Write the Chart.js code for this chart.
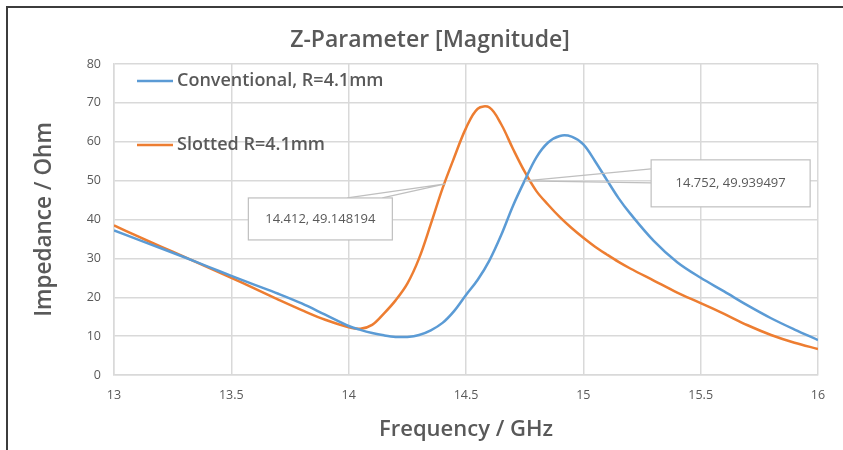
<!DOCTYPE html>
<html>
<head>
<meta charset="utf-8">
<script src="https://cdn.jsdelivr.net/npm/chart.js@4.4.1/dist/chart.umd.min.js"></script>
<style>
html, body { margin: 0; padding: 0; background: #fff; }
#wrap { position: relative; width: 843px; height: 450px; overflow: hidden; }
#frame { position: absolute; left: 6px; top: 6px; right: -10px; bottom: -10px;
         border-left: 2px solid #3c3c3c; border-top: 2px solid #3c3c3c; pointer-events: none; }
canvas { position: absolute; left: 0; top: 0; }
</style>
</head>
<body>
<div id="wrap">
  <canvas id="chart" width="843" height="450"></canvas>
  <div id="frame"></div>
</div>
<script>
// frequency in GHz, impedance in Ohm
const freq = [
    13.0, 13.1, 13.2, 13.3, 13.4, 13.5, 13.6, 13.7, 13.8, 13.9,
    14.0, 14.05, 14.1, 14.15, 14.2, 14.25, 14.3, 14.35, 14.4, 14.45,
    14.5, 14.55, 14.6, 14.65, 14.7, 14.75, 14.8, 14.85, 14.9, 14.95,
    15.0, 15.05, 15.1, 15.15, 15.2, 15.3, 15.4, 15.5, 15.6, 15.7,
    15.8, 15.9, 16.0
];
const conventional = [
    37.2, 34.9, 32.6, 30.3, 27.9, 25.5, 23.2, 20.9, 18.4, 15.5,
    12.6, 11.6, 10.8, 10.2, 9.8, 9.8, 10.3, 11.5, 13.4, 16.5,
    20.6, 24.5, 29.5, 36.0, 43.5, 50.0, 56.0, 59.8, 61.5, 61.3,
    59.3, 55.0, 50.2, 45.5, 41.5, 34.5, 29.0, 25.0, 21.5, 17.9,
    14.6, 11.7, 9.0
];
const slotted = [
    38.5, 35.7, 33.0, 30.4, 27.7, 25.0, 22.2, 19.4, 16.7, 14.2,
    12.3, 11.9, 12.9, 15.8, 19.2, 23.5, 30.0, 38.8, 48.0, 56.0,
    63.5, 68.5, 68.8, 64.5, 58.2, 52.3, 47.3, 43.8, 40.6, 37.8,
    35.3, 33.0, 31.0, 29.1, 27.4, 24.3, 21.2, 18.5, 15.7, 12.8,
    10.3, 8.3, 6.7
];
const seriesNames = ['Conventional, R=4.1mm', 'Slotted R=4.1mm'];
const xTicks = [13, 13.5, 14, 14.5, 15, 15.5, 16];
const yTicks = [0, 10, 20, 30, 40, 50, 60, 70, 80];
const chartTitle = 'Z-Parameter [Magnitude]';

// data callouts
const calloutX = [14.412, 14.752];
const calloutY = [49.148194, 49.939497];
const calloutText = ['14.412, 49.148194', '14.752, 49.939497'];

const blue = '#5b9bd5';
const orange = '#ed7d31';
const textGrey = '#595959';
const gridGrey = '#d9d9d9';
const fontFamily = "'Open Sans', 'Noto Sans', sans-serif";

const toPoints = vals => vals.map((v, i) => ({ x: freq[i], y: v }));

// title sits a bit right of the plot centre, like the original
const topTitle = {
    id: 'topTitle',
    afterDraw(chart) {
        const ctx = chart.ctx;
        ctx.save();
        ctx.font = '600 23px ' + fontFamily;
        ctx.fillStyle = textGrey;
        ctx.textAlign = 'center';
        ctx.textBaseline = 'middle';
        ctx.fillText(chartTitle, 430, 40);
        ctx.restore();
    }
};

const inlineLegend = {
    id: 'inlineLegend',
    afterDatasetsDraw(chart) {
        const ctx = chart.ctx;
        const area = chart.chartArea;
        const rows = [17, 81];
        ctx.save();
        ctx.font = '600 18px ' + fontFamily;
        ctx.textBaseline = 'middle';
        chart.data.datasets.forEach((ds, i) => {
            const y = area.top + rows[i];
            ctx.strokeStyle = ds.borderColor;
            ctx.lineWidth = 2.5;
            ctx.beginPath();
            ctx.moveTo(area.left + 23, y);
            ctx.lineTo(area.left + 59, y);
            ctx.stroke();
            ctx.fillStyle = textGrey;
            ctx.fillText(ds.label, area.left + 63, y);
        });
        ctx.restore();
    }
};

const callouts = {
    id: 'callouts',
    afterDatasetsDraw(chart) {
        const ctx = chart.ctx;
        const xs = chart.scales.x, ys = chart.scales.y;
        // box offsets from the point: left, top, width, height and wedge base
        const boxes = [
            { dx: -197, dy: 14, w: 144, h: 42, wedge: [[-98, 14], [-63, 14]] },
            { dx: 126, dy: -21, w: 159, h: 47, wedge: [[126, -12], [126, 2]] }
        ];
        ctx.save();
        ctx.font = '13px ' + fontFamily;
        ctx.textAlign = 'center';
        ctx.textBaseline = 'middle';
        calloutX.forEach((fx, i) => {
            const px = xs.getPixelForValue(fx);
            const py = ys.getPixelForValue(calloutY[i]);
            const b = boxes[i];
            ctx.strokeStyle = '#bfbfbf';
            ctx.lineWidth = 1.2;
            ctx.fillStyle = '#fff';
            ctx.beginPath();
            ctx.moveTo(px + b.wedge[0][0], py + b.wedge[0][1]);
            ctx.lineTo(px, py);
            ctx.lineTo(px + b.wedge[1][0], py + b.wedge[1][1]);
            ctx.stroke();
            ctx.fillRect(px + b.dx, py + b.dy, b.w, b.h);
            ctx.strokeRect(px + b.dx, py + b.dy, b.w, b.h);
            ctx.fillStyle = textGrey;
            ctx.fillText(calloutText[i], px + b.dx + b.w / 2, py + b.dy + b.h / 2);
        });
        ctx.restore();
    }
};

const ctx = document.getElementById('chart').getContext('2d');

const myChart = new Chart(ctx, {
    type: 'line',
    data: {
        datasets: [{
            label: seriesNames[0],
            data: toPoints(conventional),
            borderColor: blue,
            backgroundColor: blue,
            borderWidth: 2.5,
            pointRadius: 0,
            tension: 0.35,
        }, {
            label: seriesNames[1],
            data: toPoints(slotted),
            borderColor: orange,
            backgroundColor: orange,
            borderWidth: 2.5,
            pointRadius: 0,
            tension: 0.35,
        }]
    },
    options: {
        responsive: false,
        animation: false,
        layout: {
            padding: { left: 14, right: 25, top: 64, bottom: 4 }
        },
        plugins: {
            legend: { display: false },
            tooltip: { enabled: false },
            title: { display: false },
        },
        scales: {
            x: {
                type: 'linear',
                min: 13,
                max: 16,
                afterBuildTicks: scale => { scale.ticks = xTicks.map(v => ({ value: v })); },
                afterFit: scale => { scale.height = 446 - 375; },
                grid: { color: gridGrey, lineWidth: 1.5, drawTicks: false },
                border: { color: gridGrey, width: 1.5 },
                ticks: {
                    color: textGrey,
                    padding: 13,
                    maxRotation: 0,
                    font: { family: fontFamily, size: 12.5 },
                    callback: v => String(v),
                },
                title: {
                    display: true,
                    text: 'Frequency / GHz',
                    color: textGrey,
                    font: { family: fontFamily, size: 22, weight: '600' },
                    padding: { top: 0, bottom: 3 },
                }
            },
            y: {
                min: 0,
                max: 80,
                afterBuildTicks: scale => { scale.ticks = yTicks.map(v => ({ value: v })); },
                afterFit: scale => { scale.width = 114 - 14; },
                grid: { color: gridGrey, lineWidth: 1.5, drawTicks: false },
                border: { color: gridGrey, width: 1.5 },
                ticks: {
                    color: textGrey,
                    padding: 13,
                    font: { family: fontFamily, size: 12.5 },
                },
                title: {
                    display: true,
                    text: 'Impedance / Ohm',
                    color: textGrey,
                    font: { family: fontFamily, size: 22.5, weight: '600' },
                    padding: { top: 17, bottom: 0 },
                }
            }
        }
    },
    plugins: [topTitle, inlineLegend, callouts]
});
</script>
</body>
</html>
